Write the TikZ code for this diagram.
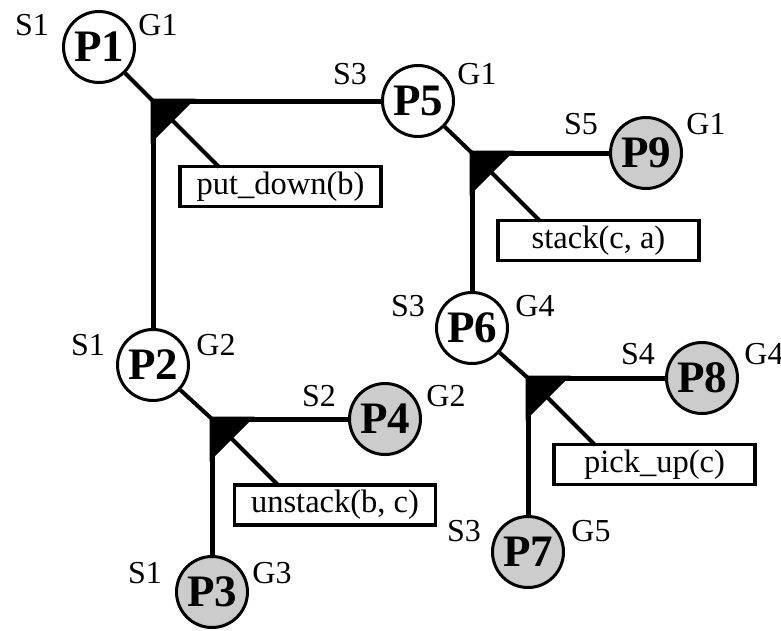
\documentclass[tikz,border=0pt]{standalone}
\usepackage{fontspec}
\setmainfont{Liberation Serif}
\usetikzlibrary{calc}
\tikzset{
  pnode/.style={circle,draw,line width=3pt,minimum size=71pt,inner sep=0pt,fill=white,font=\fontsize{45}{45}\selectfont\bfseries},
  pgrey/.style={pnode,fill=black!20},
  lab/.style={inner sep=0pt,font=\fontsize{32}{32}\selectfont},
  actbox/.style={draw,line width=3.5pt,minimum width=201pt,minimum height=40pt,inner sep=0pt,fill=white,font=\fontsize{32.5}{32.5}\selectfont},
  bar/.style={line width=5pt},
  diag/.style={line width=4pt},
}
\begin{document}
\begin{tikzpicture}[x=1pt,y=-1pt]
\useasboundingbox (0,0) rectangle (781,630);
% nodes
\node[pnode] (P1) at (99,47) {P1};
\node[pnode] (P5) at (418,101) {P5};
\node[pgrey] (P9) at (646,153) {P9};
\node[pnode] (P6) at (472,328) {P6};
\node[pgrey] (P8) at (702,378) {P8};
\node[pgrey] (P7) at (528,552) {P7};
\node[pnode] (P2) at (153,365) {P2};
\node[pgrey] (P4) at (385,419) {P4};
\node[pgrey] (P3) at (212,592) {P3};
% action boxes
\node[actbox] (a1) at (280.5,186.5) {put\_down(b)};
\node[actbox] (a2) at (598.5,240.5) {stack(c, a)};
\node[actbox] (a3) at (335,505) {unstack(b, c)};
\node[actbox] (a4) at (654.5,464.5) {pick\_up(c)};
% junctions
\coordinate (J1) at (153,101);
\coordinate (J2) at (472,153);
\coordinate (J3) at (212,419);
\coordinate (J4) at (528,378);
\coordinate (t1) at ($(J1)+(66,66)$);
\coordinate (t2) at ($(J2)+(68,68)$);
\coordinate (t3) at ($(J3)+(66,66)$);
\coordinate (t4) at ($(J4)+(67,67)$);
% connectors
\draw[bar] (J1) -- (P5);
\draw[bar] (J1) -- (P2);
\draw[bar] (J2) -- (P9);
\draw[bar] (J2) -- (P6);
\draw[bar] (J3) -- (P4);
\draw[bar] (J3) -- (P3);
\draw[bar] (J4) -- (P8);
\draw[bar] (J4) -- (P7);
\draw[diag] (P1) -- (J1) -- (t1);
\draw[diag] (P5) -- (J2) -- (t2);
\draw[diag] (P2) -- (J3) -- (t3);
\draw[diag] (P6) -- (J4) -- (t4);
% triangles
\foreach \j in {J1,J2,J3,J4}{
  \fill (\j) ++(-2.5,-2.5) -- ++(45,0) -- ++(-45,45) -- cycle;
}
% labels
\node[lab] (s1) at (32,25) {S1};
\node[lab] (g1) at (158,25) {G1};
\node[lab] (s5a) at (350,74) {S3};
\node[lab] (g5a) at (477,74) {G1};
\node[lab] (s9) at (581,124) {S5};
\node[lab] (g9) at (706,124) {G1};
\node[lab] (s2) at (88,345) {S1};
\node[lab] (g2) at (216,345) {G2};
\node[lab] (s4) at (319,396) {S2};
\node[lab] (g4) at (446,396) {G2};
\node[lab] (s6) at (408,306) {S3};
\node[lab] (g6) at (535,306) {G4};
\node[lab] (s8) at (638,354) {S4};
\node[lab] (g8) at (764,354) {G4};
\node[lab] (s7) at (464,531) {S3};
\node[lab] (g7) at (591,531) {G5};
\node[lab] (s3) at (145,573) {S1};
\node[lab] (g3) at (272,573) {G3};
\end{tikzpicture}
\end{document}
